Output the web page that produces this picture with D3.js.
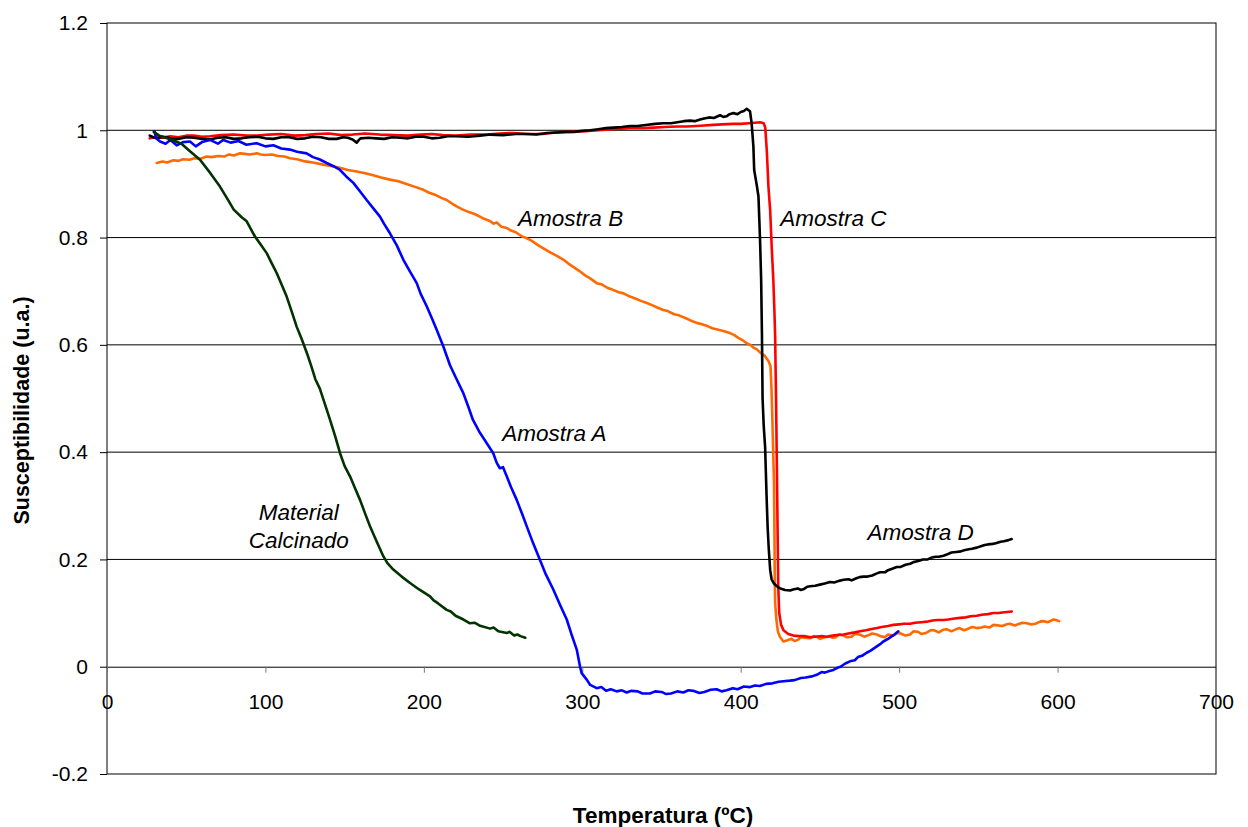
<!DOCTYPE html>
<html>
<head>
<meta charset="utf-8">
<script src="https://cdn.jsdelivr.net/npm/d3@7"></script>
<style>
  html, body { margin: 0; padding: 0; background: #fff; }
  svg { display: block; font-family: Arial, "Liberation Sans", sans-serif; }
</style>
</head>
<body>
<svg id="chart" width="1248" height="827"></svg>
<script>
// ---- Data (temperature ºC, susceptibility u.a.) ----
const xTicks = [0, 100, 200, 300, 400, 500, 600, 700];
const yTicks = [-0.2, 0, 0.2, 0.4, 0.6, 0.8, 1, 1.2];
const yTickLabels = ["-0.2", "0", "0.2", "0.4", "0.6", "0.8", "1", "1.2"];

const materialCalcinado = [[29.5,0.997],[33,0.99],[38,0.985],[42,0.981],[47,0.975],[52,0.962],[58.7,0.945],[65,0.921],[71.3,0.895],[76,0.872],[80,0.852],[85,0.838],[88,0.831],[93.4,0.802],[97,0.787],[100.8,0.771],[104,0.752],[107.1,0.734],[110,0.714],[113.4,0.69],[116.5,0.663],[119.7,0.634],[123,0.61],[126.5,0.582],[129,0.56],[131.5,0.536],[134.4,0.518],[137.5,0.49],[140.8,0.46],[144,0.43],[147.1,0.398],[150,0.374],[153.4,0.355],[156.5,0.333],[159.7,0.311],[163,0.285],[166,0.262],[170,0.235],[174.4,0.206],[177,0.193],[180.7,0.181],[186,0.168],[191.3,0.156],[197,0.144],[203.9,0.131],[206,0.124],[209,0.118],[214.4,0.106],[217,0.103],[220,0.095],[225,0.088],[229.1,0.081],[232,0.082],[235,0.077],[241.8,0.071],[244,0.073],[247,0.066],[252.3,0.063],[254,0.065],[257,0.058],[259,0.06],[261,0.057],[264,0.054]];

const amostraA = [[30,0.998],[31,0.985],[33.5,0.979],[37,0.975],[40,0.982],[44,0.972],[48,0.978],[52.4,0.979],[56,0.97],[60,0.978],[65,0.982],[70,0.975],[73.4,0.982],[78,0.977],[83,0.98],[88,0.973],[94.5,0.976],[100,0.97],[105,0.972],[110,0.966],[115.5,0.964],[120,0.96],[126,0.957],[130,0.95],[134,0.946],[138.7,0.939],[143,0.933],[147.1,0.926],[151,0.914],[155.5,0.902],[160,0.885],[163.9,0.87],[168,0.855],[172.3,0.839],[175,0.825],[178.6,0.808],[183,0.785],[187,0.759],[191,0.738],[195.5,0.715],[198,0.695],[201.8,0.672],[205,0.65],[208.1,0.628],[212.3,0.597],[216.5,0.562],[220,0.54],[224.9,0.51],[228,0.485],[231,0.46],[235.4,0.436],[239,0.42],[243.8,0.398],[246,0.38],[248,0.37],[250,0.372],[252.3,0.355],[255,0.335],[258.6,0.311],[262,0.285],[264.9,0.262],[269,0.23],[273.3,0.199],[277,0.172],[281.7,0.144],[286,0.115],[290.2,0.088],[293,0.062],[296.5,0.032],[298.6,0.0],[299.6,-0.012],[302.8,-0.024],[305,-0.034],[309.1,-0.04],[312,-0.038],[315,-0.045],[318,-0.042],[321.7,-0.046],[325,-0.044],[328,-0.048],[331,-0.045],[335,-0.046],[338,-0.05],[342.7,-0.05],[346,-0.046],[350,-0.047],[353,-0.051],[356,-0.05],[360,-0.046],[363.8,-0.048],[367,-0.044],[370,-0.045],[374,-0.049],[377,-0.047],[381,-0.043],[384.8,-0.042],[388,-0.046],[391,-0.044],[395,-0.04],[398,-0.042],[402,-0.037],[405.9,-0.038],[409,-0.035],[412,-0.036],[416,-0.032],[420,-0.031],[424,-0.028],[427,-0.027],[431,-0.026],[434,-0.025],[438,-0.021],[441,-0.02],[445,-0.018],[448,-0.015],[451,-0.01],[453,-0.011],[456,-0.008],[458.5,-0.006],[461,-0.002],[463,0.0],[466,0.006],[469,0.01],[472,0.012],[474,0.018],[477,0.021],[479.5,0.026],[482,0.03],[485,0.036],[488,0.042],[490,0.047],[493,0.052],[495,0.056],[497,0.06],[499.5,0.066]];

const amostraB = [[31.4,0.939],[35,0.942],[38,0.94],[41.9,0.944],[45,0.943],[48,0.946],[52,0.945],[55,0.948],[59,0.947],[62.9,0.951],[66,0.95],[70,0.952],[74,0.951],[77,0.955],[80,0.953],[84,0.957],[87,0.956],[90,0.955],[94.5,0.957],[97,0.955],[100,0.954],[104,0.955],[108,0.952],[112,0.951],[115.5,0.948],[120,0.946],[125,0.942],[130,0.94],[136.5,0.936],[142,0.933],[147,0.93],[152,0.926],[157.6,0.923],[163,0.92],[168,0.916],[173,0.912],[178.6,0.908],[184,0.905],[189,0.9],[194,0.895],[199.7,0.889],[203,0.884],[207,0.88],[211,0.874],[214.4,0.87],[218,0.863],[220.7,0.858],[224,0.853],[228,0.848],[232,0.844],[235.4,0.839],[238,0.835],[241.7,0.831],[244,0.826],[246,0.828],[249,0.82],[252.3,0.818],[255,0.813],[258,0.81],[262,0.802],[264,0.8],[267,0.796],[270,0.79],[272,0.786],[276,0.779],[280,0.772],[284,0.766],[288,0.759],[291,0.752],[295,0.744],[298,0.738],[302,0.729],[305,0.724],[309.1,0.715],[312,0.713],[316,0.706],[319,0.703],[323,0.698],[326,0.696],[330.1,0.69],[333,0.687],[337,0.682],[340,0.679],[344,0.674],[347,0.67],[351.1,0.665],[354,0.663],[358,0.657],[361,0.655],[365,0.65],[368,0.646],[372.2,0.641],[375,0.639],[379,0.635],[382,0.631],[386,0.628],[389,0.626],[393.2,0.622],[396,0.618],[398,0.614],[401,0.609],[403.8,0.603],[406,0.6],[408,0.595],[410,0.592],[412.2,0.586],[415,0.58],[417.5,0.57],[418.8,0.56],[419.4,0.52],[419.8,0.48],[420.5,0.4],[421,0.344],[421.3,0.25],[421.5,0.158],[421.7,0.12],[422.5,0.088],[423.5,0.065],[424.9,0.055],[427,0.047],[429.1,0.049],[432,0.052],[434,0.048],[436,0.05],[438,0.055],[440,0.054],[443.8,0.053],[446,0.057],[448,0.056],[450,0.052],[452,0.054],[456,0.057],[458,0.054],[460,0.055],[462,0.06],[464.8,0.058],[467,0.055],[470,0.056],[472,0.061],[475,0.06],[478,0.056],[480,0.058],[483,0.062],[485.9,0.06],[488,0.057],[491,0.055],[493,0.06],[496.4,0.058],[499,0.063],[501,0.062],[504,0.058],[506.9,0.06],[509,0.066],[512,0.065],[514,0.061],[517,0.063],[520,0.068],[522,0.068],[525,0.064],[527.9,0.069],[530,0.07],[533,0.066],[536,0.07],[538,0.072],[541,0.068],[543,0.07],[546,0.074],[549,0.072],[552,0.073],[554,0.075],[557,0.073],[559.5,0.078],[562,0.077],[565,0.076],[568,0.079],[570,0.08],[573,0.077],[575,0.079],[578,0.082],[580.6,0.081],[583,0.079],[586,0.08],[589,0.084],[591,0.085],[594,0.083],[597.4,0.088],[599,0.087],[601,0.085]];

const amostraC = [[27,0.985],[31,0.988],[35,0.986],[40,0.989],[45,0.987],[50,0.99],[55,0.99],[60,0.988],[65,0.989],[72,0.991],[80,0.992],[88,0.99],[95,0.99],[102,0.992],[110,0.993],[118,0.99],[125,0.991],[132,0.993],[140,0.994],[148,0.991],[155,0.992],[163,0.994],[172,0.992],[181,0.991],[190,0.99],[198,0.992],[205,0.993],[212,0.991],[220,0.99],[230,0.992],[240,0.992],[248,0.994],[256,0.995],[265,0.993],[275,0.993],[283,0.996],[290,0.997],[300,0.998],[310,1.0],[320,1.002],[330,1.004],[338,1.004],[345,1.005],[352,1.006],[360,1.007],[366,1.007],[372,1.008],[377,1.009],[382.6,1.01],[388,1.011],[395,1.012],[400,1.012],[405,1.013],[409,1.014],[412.2,1.015],[414.5,1.013],[415.5,1.005],[416.5,0.96],[417.5,0.895],[418.6,0.85],[419.6,0.78],[420.6,0.72],[421.3,0.66],[421.7,0.62],[422.3,0.5],[422.8,0.38],[423.3,0.25],[423.7,0.15],[424.3,0.1],[425.5,0.078],[427,0.068],[430,0.061],[433.3,0.058],[437,0.057],[440,0.057],[444,0.055],[447,0.056],[451,0.057],[454.3,0.056],[458,0.058],[461,0.059],[465,0.06],[468,0.062],[472,0.064],[475.4,0.066],[479,0.068],[482,0.07],[486,0.072],[489,0.074],[493,0.076],[496.4,0.078],[500,0.079],[503,0.08],[507,0.08],[510,0.082],[514,0.083],[517.5,0.084],[521,0.086],[524,0.087],[528,0.087],[531,0.088],[535,0.09],[538.5,0.091],[542,0.092],[545,0.094],[549,0.095],[552,0.097],[556,0.098],[559.5,0.1],[563,0.1],[565,0.101],[568,0.102],[571.1,0.103]];

const amostraD = [[27,0.99],[30,0.986],[32,0.985],[35,0.988],[38,0.987],[41,0.984],[45,0.984],[50,0.987],[55,0.986],[60,0.984],[65,0.983],[70,0.986],[75,0.987],[80,0.984],[85,0.985],[90,0.987],[95,0.988],[100,0.985],[105,0.984],[110,0.987],[115,0.987],[120,0.984],[125,0.985],[130,0.988],[135,0.987],[140,0.984],[145,0.984],[149,0.987],[152,0.986],[155,0.983],[157.6,0.977],[159,0.982],[160,0.985],[165,0.986],[170,0.985],[175,0.984],[180,0.987],[185,0.986],[190,0.985],[195,0.988],[200,0.988],[205,0.985],[210,0.986],[215,0.989],[220,0.989],[228,0.988],[235.4,0.99],[242,0.992],[250,0.991],[258,0.993],[265,0.993],[271,0.992],[277.6,0.995],[284,0.996],[290,0.997],[295,0.997],[300,0.999],[305,1.0],[310,1.002],[315,1.004],[319.6,1.005],[325,1.006],[330,1.008],[335,1.008],[340,1.01],[346,1.012],[351.2,1.013],[356,1.013],[360,1.015],[364,1.017],[368,1.018],[371,1.017],[374.3,1.02],[377,1.022],[380,1.024],[383,1.023],[387,1.028],[389,1.025],[391,1.026],[393,1.03],[395.4,1.032],[398,1.03],[400,1.034],[402,1.036],[403.8,1.04],[405.2,1.037],[405.9,1.035],[406.9,1.013],[408,0.97],[408.5,0.926],[410,0.9],[411.2,0.877],[412.2,0.796],[412.9,0.721],[413.4,0.62],[413.8,0.5],[414.5,0.45],[415.4,0.41],[416.3,0.32],[417,0.26],[417.7,0.22],[418.6,0.18],[419.5,0.163],[421,0.155],[422.5,0.151],[424.2,0.147],[426,0.145],[428,0.143],[431.2,0.142],[433,0.144],[436,0.146],[438,0.143],[440,0.145],[442,0.149],[443.8,0.15],[447,0.151],[450,0.153],[453,0.155],[456.4,0.158],[459,0.157],[462,0.16],[465,0.162],[468,0.163],[470,0.161],[473,0.165],[475,0.167],[477.4,0.168],[480,0.168],[483,0.17],[486,0.174],[488,0.176],[491,0.176],[493,0.18],[496,0.183],[498.5,0.186],[501,0.186],[504,0.19],[507,0.192],[509,0.195],[512,0.197],[515,0.2],[518,0.2],[520,0.203],[523,0.205],[525,0.205],[528,0.207],[530,0.209],[533,0.213],[536,0.214],[539,0.215],[541,0.217],[544,0.219],[546,0.22],[549,0.222],[551.1,0.224],[554,0.227],[556,0.228],[559,0.229],[561,0.23],[564,0.233],[566,0.234],[569,0.236],[571,0.238]];

const seriesNames = ["Amostra B", "Amostra C", "Amostra D", "Amostra A", "Material Calcinado"];
const seriesData = [amostraB, amostraC, amostraD, amostraA, materialCalcinado];
const seriesColors = ["#FF6A00", "#FF0000", "#000000", "#0000FF", "#003300"];

// Label anchor points placed in data coordinates
const labelTexts = ["Amostra A", "Amostra B", "Amostra C", "Amostra D", "Material", "Calcinado"];
const labelPos = [[249.5, 0.42], [259.5, 0.822], [425, 0.822], [480, 0.237], [121, 0.274], [121, 0.222]];

// ---- Drawing ----
const svg = d3.select("#chart");
const W = 1248, H = 827;
const m = { left: 107, right: 1216, top: 23, bottom: 774 };

svg.append("rect").attr("width", W).attr("height", H).attr("fill", "#fff");

const x = d3.scaleLinear().domain([0, 700]).range([m.left, m.right]);
const y = d3.scaleLinear().domain([-0.2, 1.2]).range([m.bottom, m.top]);

// gridlines
svg.append("g")
  .selectAll("line")
  .data([0.2, 0.4, 0.6, 0.8, 1.0])
  .join("line")
  .attr("x1", m.left).attr("x2", m.right)
  .attr("y1", d => y(d)).attr("y2", d => y(d))
  .attr("stroke", "#000").attr("stroke-width", 1);

// plot frame
svg.append("rect")
  .attr("x", m.left).attr("y", m.top)
  .attr("width", m.right - m.left).attr("height", m.bottom - m.top)
  .attr("fill", "none").attr("stroke", "#000").attr("stroke-width", 1);

// y axis
const yAxis = d3.axisLeft(y)
  .tickValues(yTicks)
  .tickFormat((d, i) => yTickLabels[i])
  .tickSize(7).tickSizeOuter(0).tickPadding(12);
const gy = svg.append("g").attr("transform", `translate(${m.left},0)`).call(yAxis);
gy.select(".domain").remove();
gy.selectAll("text").attr("font-size", 21).attr("fill", "#000").attr("font-family", "Arial, 'Liberation Sans', sans-serif");
gy.selectAll(".tick line").attr("stroke", "#000");

// x axis at y = 0
const xAxis = d3.axisBottom(x)
  .tickValues(xTicks)
  .tickFormat(d3.format("d"))
  .tickSize(6).tickSizeOuter(0).tickPadding(21);
const gx = svg.append("g").attr("transform", `translate(0,${y(0)})`).call(xAxis);
gx.select(".domain").attr("stroke", "#000");
gx.selectAll("text").attr("font-size", 21).attr("fill", "#000").attr("font-family", "Arial, 'Liberation Sans', sans-serif");
gx.selectAll(".tick line").attr("stroke", "#777");

// series lines
const line = d3.line().x(d => x(d[0])).y(d => y(d[1]));
svg.append("g")
  .selectAll("path")
  .data(seriesData)
  .join("path")
  .attr("d", d => line(d))
  .attr("fill", "none")
  .attr("stroke", (d, i) => seriesColors[i])
  .attr("stroke-width", 2.6)
  .attr("stroke-linejoin", "round")
  .attr("stroke-linecap", "round");

// in-plot labels
svg.append("g")
  .selectAll("text")
  .data(labelTexts)
  .join("text")
  .attr("x", (d, i) => x(labelPos[i][0]))
  .attr("y", (d, i) => y(labelPos[i][1]))
  .attr("text-anchor", (d, i) => i >= 4 ? "middle" : "start")
  .attr("font-size", 22.5)
  .attr("font-style", "italic")
  .attr("fill", "#000")
  .text(d => d);

// axis titles
svg.append("text")
  .attr("x", 663).attr("y", 823)
  .attr("text-anchor", "middle")
  .attr("font-size", 22.5).attr("font-weight", "bold")
  .text("Temperatura (ºC)");

svg.append("text")
  .attr("transform", `translate(29,${(m.top + m.bottom) / 2 + 12}) rotate(-90)`)
  .attr("text-anchor", "middle")
  .attr("font-size", 21.5).attr("font-weight", "bold")
  .text("Susceptibilidade (u.a.)");
</script>
</body>
</html>
